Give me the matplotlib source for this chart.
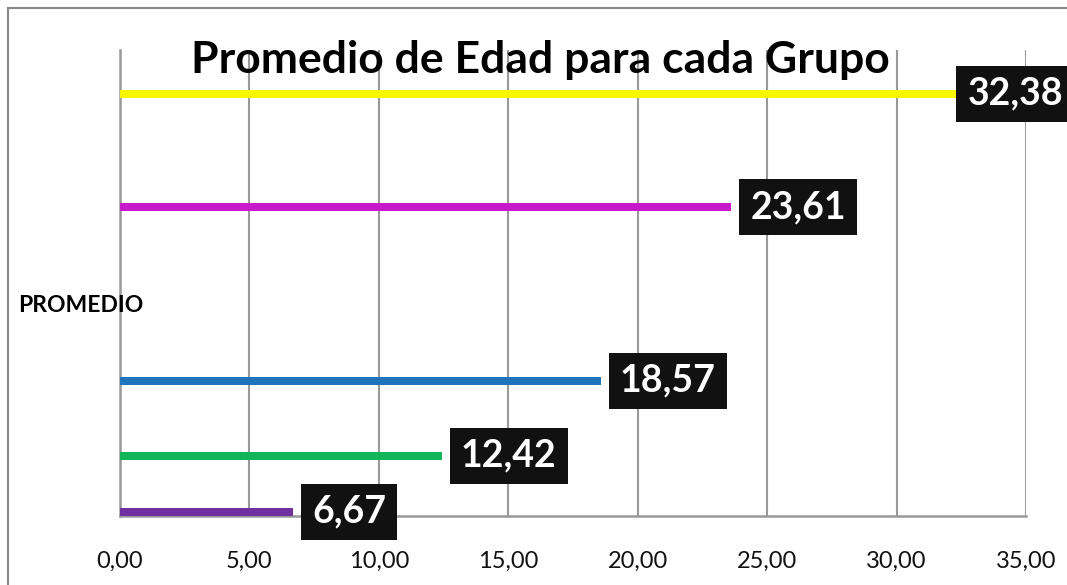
import matplotlib
matplotlib.use("Agg")
import matplotlib.pyplot as plt
from matplotlib.patches import Rectangle

# Data
groups = ["G1", "G2", "G3", "G4", "G5"]
values = [6.67, 12.42, 18.57, 23.61, 32.38]
colors = ["#7030A0", "#12B65A", "#1F74BC", "#C81AC8", "#F7F700"]
ypos = [0.009, 0.129, 0.290, 0.663, 0.906]
xticks = [0, 5, 10, 15, 20, 25, 30, 35]
title = "Promedio de Edad para cada Grupo"
ylabel = "PROMEDIO"

W, H = 1067, 585
fig = plt.figure(figsize=(W / 100, H / 100), dpi=100)
fig.patch.set_facecolor("white")
ax = fig.add_axes([120 / W, 1 - 516 / H, (1026 - 120) / W, (516 - 50) / H])

FONT = "Lato"
PX = 72 / 100  # points per pixel
LFS = 27
PAD = 0.3
padpx = PAD * LFS / PX

ax.barh(ypos, values, height=0.017, color=colors, zorder=3)

for i, (v, y) in enumerate(zip(values, ypos)):
    last = i == len(values) - 1
    gap = -2 if last else 8
    ax.annotate(f"{v:.2f}".replace(".", ","), xy=(v, y),
                xytext=((gap + padpx) * PX, 0),
                textcoords="offset points", va="center", ha="left",
                fontsize=LFS, fontweight="bold", color="white", family=FONT,
                bbox=dict(boxstyle=f"square,pad={PAD}", fc="#111111", ec="none"),
                annotation_clip=False, zorder=5)

ax.set_xlim(0, 35)
ax.set_ylim(0, 1)
ax.set_xticks(xticks)
ax.set_xticklabels([f"{t:.2f}".replace(".", ",") for t in xticks],
                   fontsize=17, family=FONT, color="#111111")
ax.set_yticks([])
ax.tick_params(axis="x", length=0, pad=25)
ax.grid(axis="x", color="#999999", lw=1.5, zorder=0)
for s in ["top", "right"]:
    ax.spines[s].set_visible(False)
for s in ["left", "bottom"]:
    ax.spines[s].set_color("#999999")
    ax.spines[s].set_linewidth(1.8)

fig.text(540 / W, 1 - 60 / H, title, ha="center", va="center",
         fontsize=32, fontweight="bold", family=FONT, color="black")
fig.text(18 / W, 1 - 305 / H, ylabel, ha="left", va="center",
         fontsize=16.5, fontweight="bold", family=FONT, color="black")

fig.add_artist(Rectangle((7.5 / W, -0.05), 1.2, 1 - 7.5 / H + 0.05,
                         transform=fig.transFigure, fill=False,
                         ec="#888888", lw=1.5))

fig.savefig("out.png", dpi=100)
